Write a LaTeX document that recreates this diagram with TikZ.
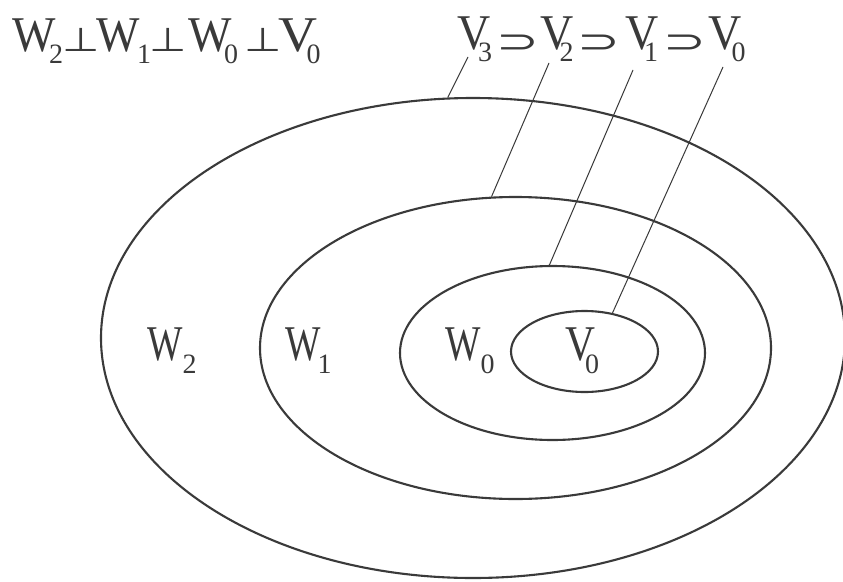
\documentclass[tikz,border=0pt]{standalone}
\usepackage{fontspec}
\setmainfont{Liberation Serif}
\newfontfamily\symfont{DejaVu Sans}
\usetikzlibrary{shapes.geometric}
\definecolor{ink}{RGB}{58,58,58}
% #1 xscale of letter, #2 letter, #3 kern, #4 subscript digit
\newcommand\Lt[4]{\scalebox{#1}[1]{#2}\kern#3\raisebox{-13pt}{\fontsize{28}{28}\selectfont #4}}
% place #2 centred at horizontal offset #1 from the start of the line
\newcommand\At[2]{\rlap{\hspace*{#1}\makebox[0pt]{#2}}}
\newcommand\Sb[1]{\raisebox{-12pt}{\fontsize{28}{28}\selectfont #1}}
\newcommand\Pp{\scalebox{1.3}[1]{\fontsize{33}{33}\symfont ⊥}}
\newcommand\Sp{\raisebox{-3pt}{\scalebox{1.6}[1]{\fontsize{32}{32}\symfont ⊃}}}
\begin{document}
\begin{tikzpicture}[x=1pt,y=-1pt,
  ell/.style={draw=ink, line width=2.1pt, ellipse, inner sep=0pt},
  lead/.style={draw=ink, line width=1pt},
  lbl/.style={anchor=base west, inner sep=0pt, text=ink, font=\fontsize{50}{60}\selectfont}]
\useasboundingbox[fill=white] (0,0) rectangle (843,581);
% nested ellipses
\node[ell, minimum width=744pt, minimum height=480pt] (e3) at (473,338) {};
\node[ell, minimum width=511pt, minimum height=302pt] (e2) at (515.5,348) {};
\node[ell, minimum width=305pt, minimum height=174pt] (e1) at (552.5,353) {};
\node[ell, minimum width=147pt, minimum height=81pt] (e0) at (584.5,351.5) {};
% region labels
\node[lbl] (w2) at (147,360) {\Lt{0.75}{W}{0pt}{2}};
\node[lbl] (w1) at (285,360) {\Lt{0.75}{W}{-3pt}{1}};
\node[lbl] (w0) at (445,360) {\Lt{0.75}{W}{0pt}{0}};
\node[lbl] (v0) at (565,360) {\Lt{0.83}{V}{-10pt}{0}};
% top formulas
\node[lbl] (orth) at (13,51) {%
  \At{21pt}{\scalebox{0.92}[1]{W}}\At{43pt}{\Sb{2}}\At{67.5pt}{\Pp}%
  \At{105.5pt}{\scalebox{0.92}[1]{W}}\At{131pt}{\Sb{1}}\At{154.5pt}{\Pp}%
  \At{197pt}{\scalebox{0.92}[1]{W}}\At{218pt}{\Sb{0}}\At{249.5pt}{\Pp}%
  \At{284.5pt}{\scalebox{1.08}[1]{V}}\At{300.5pt}{\Sb{0}}\hspace*{308pt}};
\node[lbl] (nest) at (458,49) {%
  \At{16pt}{\scalebox{0.92}[1]{V}}\At{27pt}{\Sb{3}}\At{59.5pt}{\Sp}%
  \At{98.5pt}{\scalebox{0.92}[1]{V}}\At{108.5pt}{\Sb{2}}\At{141pt}{\Sp}%
  \At{183.5pt}{\scalebox{0.92}[1]{V}}\At{193pt}{\Sb{1}}\At{227pt}{\Sp}%
  \At{267pt}{\scalebox{0.92}[1]{V}}\At{280.5pt}{\Sb{0}}\hspace*{288pt}};
% leader lines
\coordinate (t3) at (468,57);
\coordinate (t2) at (549,63);
\coordinate (t1) at (633,70);
\coordinate (t0) at (723,67);
\draw[lead] (t3) -- (e3.96);
\draw[lead] (t2) -- (e2.99);
\draw[lead] (t1) -- (e1.92);
\draw[lead] (t0) -- (e0.54);
\end{tikzpicture}
\end{document}
